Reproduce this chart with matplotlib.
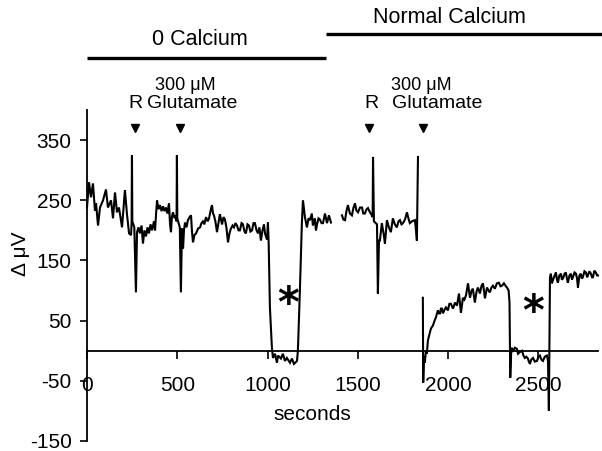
import matplotlib
matplotlib.use("Agg")
import matplotlib.pyplot as plt
import numpy as np

plt.rcParams['font.family'] = ['Liberation Sans', 'DejaVu Sans']
plt.rcParams['axes.unicode_minus'] = False

# ---- trace data (seconds, delta microvolts), three recorded segments ----
seg1_t = [0, 11, 22, 33, 44, 50, 61, 72, 89, 105, 116, 133, 144, 155, 166, 177, 194, 210, 221, 233,
          244, 247, 249, 251, 262, 271, 277, 285, 293, 302, 310, 318, 327, 335, 343, 352, 360, 371, 377,
          383, 388, 396, 404, 413, 421, 429, 437, 445, 454, 460, 465, 470, 476, 485, 493, 496, 498, 500,
          514, 520, 526, 532, 537, 543, 551, 559, 568, 576, 581, 587, 595, 604, 615, 626, 634, 642, 650,
          659, 668, 676, 684, 692, 698, 703, 711, 720, 728, 736, 742, 748, 756, 764, 772, 781, 789, 797,
          806, 814, 822, 831, 839, 847, 856, 864, 872, 880, 889, 897, 905, 914, 922, 930, 939, 947, 955,
          963, 972, 980, 986, 991, 997, 1002, 1006, 1013, 1024, 1030, 1041, 1052, 1058, 1074, 1085, 1096,
          1107, 1124, 1135, 1146, 1163, 1168, 1179, 1190, 1196, 1207, 1218, 1227, 1235, 1245, 1251, 1262,
          1268, 1274, 1282, 1290, 1299, 1307, 1318, 1329, 1340, 1351]
seg1_v = [238, 280, 255, 278, 233, 245, 208, 238, 250, 268, 238, 250, 220, 263, 230, 238, 205, 267, 228, 195,
          192, 212, 325, 215, 205, 97, 197, 205, 195, 208, 178, 200, 190, 205, 195, 210, 200, 215, 200,
          230, 250, 235, 242, 232, 240, 232, 238, 228, 245, 210, 197, 222, 230, 220, 225, 215, 325, 220,
          205, 97, 203, 170, 200, 213, 205, 217, 222, 225, 200, 180, 192, 195, 203, 205, 212, 215, 210,
          222, 215, 220, 232, 242, 228, 225, 215, 197, 212, 227, 218, 210, 222, 218, 205, 180, 195, 203,
          208, 205, 212, 208, 200, 200, 212, 210, 198, 195, 210, 208, 198, 200, 212, 212, 200, 195, 205,
          183, 200, 210, 195, 190, 185, 213, 180, 72, 5, -12, -5, -20, -8, -13, -5, -17,
          -12, -20, -13, -22, -17, 0, 100, 212, 250, 222, 205, 220, 217, 228, 208, 220,
          200, 210, 220, 218, 212, 212, 228, 212, 225, 213]

seg2_t = [1412, 1420, 1429, 1437, 1445, 1456, 1467, 1476, 1484, 1492, 1501, 1512, 1523, 1530, 1539, 1548,
          1556, 1567, 1578, 1582, 1584, 1589, 1606, 1611, 1617, 1622, 1633, 1645, 1650, 1661, 1672, 1683,
          1694, 1705, 1716, 1725, 1733, 1742, 1750, 1761, 1772, 1780, 1788, 1800, 1816, 1822, 1827, 1833]
seg2_v = [225, 218, 217, 232, 242, 228, 225, 238, 245, 233, 230, 238, 238, 228, 228, 235,
          237, 230, 225, 222, 322, 215, 210, 95, 183, 183, 212, 190, 178, 217, 205, 197,
          220, 210, 205, 215, 217, 210, 212, 218, 230, 220, 212, 215, 217, 200, 183, 322]

seg3_t = [1860, 1862, 1866, 1871, 1877, 1882, 1888, 1897, 1905, 1916, 1925, 1932, 1943, 1949, 1955, 1960,
          1966, 1971, 1980, 1988, 1999, 2007, 2015, 2027, 2038, 2049, 2060, 2071, 2082, 2090, 2099, 2110,
          2121, 2130, 2137, 2148, 2157, 2165, 2176, 2185, 2193, 2204, 2215, 2224, 2231, 2240, 2248, 2259,
          2270, 2281, 2290, 2298, 2309, 2320, 2326, 2335, 2340, 2344, 2350, 2359, 2370, 2381, 2387, 2398,
          2409, 2417, 2425, 2433, 2442, 2447, 2453, 2460, 2470, 2480, 2492, 2500, 2508, 2517, 2525, 2535,
          2547, 2553, 2558, 2564, 2569, 2575, 2580, 2590, 2597, 2603, 2608, 2616, 2625, 2630, 2636, 2645,
          2652, 2658, 2663, 2672, 2680, 2686, 2691, 2700, 2708, 2714, 2719, 2727, 2735, 2740, 2746, 2755,
          2763, 2770, 2774, 2782, 2791, 2797, 2802, 2810, 2818, 2825, 2830]
seg3_v = [88, -53, -10, -20, 0, -5, 17, 28, 37, 42, 50, 55, 67, 62, 62, 70,
          70, 62, 68, 72, 67, 78, 78, 70, 80, 75, 95, 63, 88, 85, 92, 112,
          88, 100, 103, 80, 98, 105, 95, 108, 112, 87, 105, 100, 97, 105, 108, 103,
          112, 113, 107, 108, 112, 107, 105, 100, 80, -45, 5, 0, 5, 3, -5, -2,
          0, -8, -12, -10, -13, -18, -22, -15, -12, -18, -17, -10, -8, -15, -17, -10,
          -8, -17, -100, 122, 128, 112, 117, 125, 130, 118, 113, 125, 128, 118, 120, 128,
          130, 120, 113, 125, 128, 118, 122, 130, 128, 120, 105, 125, 128, 120, 122, 132,
          130, 122, 125, 132, 128, 122, 122, 133, 130, 125, 125]

segments = [(seg1_t, seg1_v), (seg2_t, seg2_v), (seg3_t, seg3_v)]

# ---- axis ticks ----
xticks = [0, 500, 1000, 1500, 2000, 2500]
yticks = [350, 250, 150, 50, -50, -150]

# ---- event markers (arrow times) ----
event_times = [266, 515, 1561, 1860]

fig = plt.figure(figsize=(6.02, 4.51), dpi=100)
ax = fig.add_axes([87/602, 10/451, 511/602, 331/451])
ax.set_xlim(0, 2830)
ax.set_ylim(-150, 400)

for t, v in segments:
    ax.plot(t, v, color='black', lw=1.5, solid_joinstyle='miter', clip_on=False)

for s in ['top', 'right']:
    ax.spines[s].set_visible(False)
ax.spines['bottom'].set_position(('data', 0))
ax.spines['left'].set_position(('data', 0))
ax.spines['left'].set_linewidth(1.3)
ax.spines['bottom'].set_linewidth(1.3)

ax.set_xticks(xticks)
ax.set_yticks(yticks)
ax.tick_params(axis='x', direction='out', length=6, width=1.2, pad=12, labelsize=15)
ax.tick_params(axis='y', direction='out', length=5, width=1.2, pad=6, labelsize=15)

fig.text(312/602, 1 - 414/451, 'seconds', ha='center', va='center', fontsize=15)
fig.text(21/602, 1 - 254/451, 'Δ μV', ha='center', va='center', rotation=90, fontsize=15)

# condition bars
ax.plot([0, 1323], [487, 487], color='black', lw=2.4, clip_on=False, solid_capstyle='butt')
ax.plot([1323, 2860], [527, 527], color='black', lw=2.4, clip_on=False, solid_capstyle='butt')
ax.text(626, 517, '0 Calcium', ha='center', va='center', fontsize=15.5, clip_on=False)
ax.text(2010, 553, 'Normal Calcium', ha='center', va='center', fontsize=15.5, clip_on=False)

# event labels
ax.text(271, 410, 'R', ha='center', va='center', fontsize=14, clip_on=False)
ax.text(543, 441, '300 μM', ha='center', va='center', fontsize=13, clip_on=False)
ax.text(581, 410, 'Glutamate', ha='center', va='center', fontsize=14, clip_on=False)
ax.text(1578, 410, 'R', ha='center', va='center', fontsize=14, clip_on=False)
ax.text(1849, 441, '300 μM', ha='center', va='center', fontsize=13, clip_on=False)
ax.text(1938, 410, 'Glutamate', ha='center', va='center', fontsize=14, clip_on=False)
ax.plot(event_times, [370] * len(event_times), linestyle='none', marker='v',
        color='black', markersize=6, clip_on=False)

# asterisks
ax.text(1113, 76, '*', ha='center', va='center', fontsize=30, fontweight='bold', family='DejaVu Sans')
ax.text(2470, 62, '*', ha='center', va='center', fontsize=30, fontweight='bold', family='DejaVu Sans')

fig.savefig('out.png', dpi=100)
